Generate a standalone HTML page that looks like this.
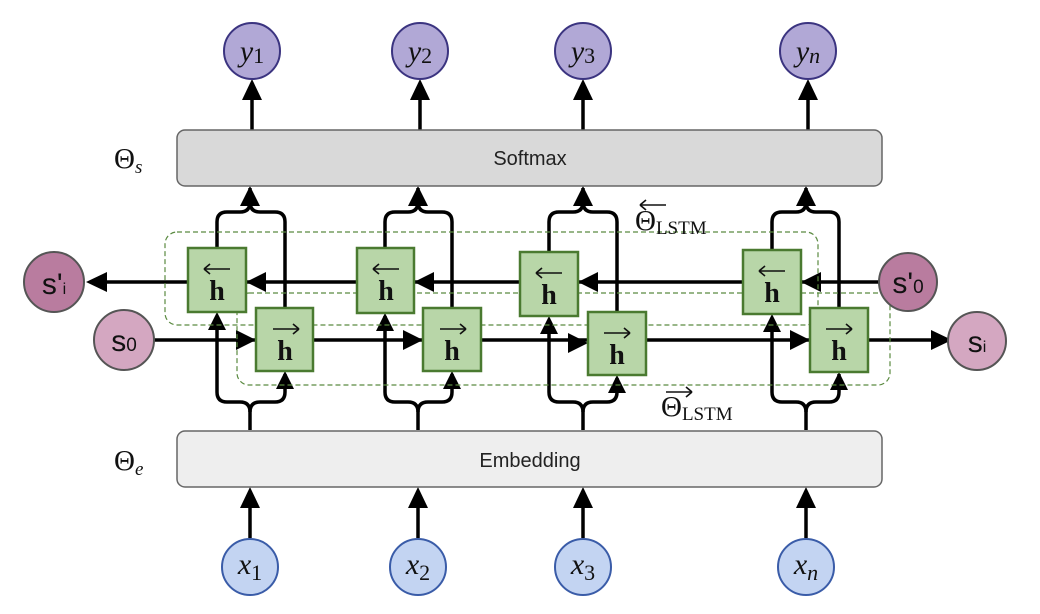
<!DOCTYPE html>
<html><head><style>body{margin:0;background:#fff}svg{display:block}</style></head><body>
<svg width="1040" height="614" viewBox="0 0 1040 614" xmlns="http://www.w3.org/2000/svg" font-family="Liberation Serif, serif">
<g stroke="#000" stroke-width="3.5" fill="none">
<line x1="250" y1="538" x2="250" y2="500"/>
<line x1="418" y1="538" x2="418" y2="500"/>
<line x1="583" y1="538" x2="583" y2="500"/>
<line x1="806" y1="538" x2="806" y2="500"/>
<line x1="252" y1="130" x2="252" y2="92"/>
<line x1="420" y1="130" x2="420" y2="92"/>
<line x1="583" y1="130" x2="583" y2="92"/>
<line x1="808" y1="130" x2="808" y2="92"/>
<line x1="880" y1="282" x2="100" y2="282"/>
<line x1="154" y1="340" x2="935" y2="340"/>
</g>
<g fill="#000">
<path d="M250,487l-10,21h20z"/><path d="M418,487l-10,21h20z"/><path d="M583,487l-10,21h20z"/><path d="M806,487l-10,21h20z"/>
<path d="M252,79l-10,21h20z"/><path d="M420,79l-10,21h20z"/><path d="M583,79l-10,21h20z"/><path d="M808,79l-10,21h20z"/>
<path d="M86,282l21,-10v20z"/>
<path d="M952,340l-21,-10v20z"/>
</g>
<g stroke="#000" stroke-width="3.5" fill="none">
<path d="M250,430V412Q250,402 240,402H227Q217,402 217,392V316"/>
<path d="M250,412Q250,402 260,402H275Q285,402 285,392V374"/>
<path d="M217,248V222Q217,212 227,212H240Q250,212 250,202V188"/>
<path d="M285,308V222Q285,212 275,212H260Q250,212 250,202"/>
<path d="M418,430V412Q418,402 408,402H395Q385,402 385,392V316"/>
<path d="M418,412Q418,402 428,402H442Q452,402 452,392V374"/>
<path d="M385,248V222Q385,212 395,212H408Q418,212 418,202V188"/>
<path d="M452,308V222Q452,212 442,212H428Q418,212 418,202"/>
<path d="M583,430V412Q583,402 573,402H559Q549,402 549,392V320"/>
<path d="M583,412Q583,402 593,402H607Q617,402 617,392V378"/>
<path d="M549,252V222Q549,212 559,212H573Q583,212 583,202V188"/>
<path d="M617,312V222Q617,212 607,212H593Q583,212 583,202"/>
<path d="M806,430V412Q806,402 796,402H782Q772,402 772,392V318"/>
<path d="M806,412Q806,402 816,402H829Q839,402 839,392V374"/>
<path d="M772,250V222Q772,212 782,212H796Q806,212 806,202V188"/>
<path d="M839,308V222Q839,212 829,212H816Q806,212 806,202"/>
</g>
<g fill="#000">
<path d="M250,186l-10,20h20z"/><path d="M418,186l-10,20h20z"/><path d="M583,186l-10,20h20z"/><path d="M806,186l-10,20h20z"/>
<path d="M217,312l-9,18h18z"/><path d="M285,371l-9,18h18z"/>
<path d="M385,313l-9,18h18z"/><path d="M452,371l-9,18h18z"/>
<path d="M549,316l-9,18h18z"/><path d="M617,375l-9,18h18z"/>
<path d="M772,314l-9,18h18z"/><path d="M839,372l-9,18h18z"/>
<path d="M256,340l-20,-10v20z"/><path d="M423,340l-20,-10v20z"/><path d="M588,343l-20,-10v20z"/><path d="M810,340l-20,-10v20z"/>
<path d="M246,282l20,-10v20z"/><path d="M414,282l20,-10v20z"/><path d="M578,282l20,-10v20z"/><path d="M801,282l20,-10v20z"/>
</g>
<rect x="165" y="232" width="653" height="93" rx="12" fill="none" stroke="#5a8a40" stroke-width="1.2" stroke-dasharray="5,3"/>
<rect x="237" y="293" width="653" height="92" rx="12" fill="none" stroke="#5a8a40" stroke-width="1.2" stroke-dasharray="5,3"/>
<g fill="#b8d6a8" stroke="#4a7a30" stroke-width="2.5">
<rect x="188" y="248" width="58" height="64"/>
<rect x="256" y="308" width="57" height="63"/>
<rect x="357" y="248" width="57" height="65"/>
<rect x="423" y="308" width="58" height="63"/>
<rect x="520" y="252" width="58" height="64"/>
<rect x="588" y="312" width="58" height="63"/>
<rect x="743" y="250" width="58" height="64"/>
<rect x="810" y="308" width="58" height="64"/>
</g>
<g font-size="28" font-weight="bold" text-anchor="middle" fill="#111">
<text x="217" y="300">h</text><text x="285" y="360">h</text>
<text x="386" y="300">h</text><text x="452" y="360">h</text>
<text x="549" y="304">h</text><text x="617" y="364">h</text>
<text x="772" y="302">h</text><text x="839" y="360">h</text>
</g>
<!-- arrows over h -->
<g stroke="#111" stroke-width="1.6" fill="none">
<path d="M204,269h26M204,269l6,-5M204,269l6,5"/>
<path d="M273,329h26M299,329l-6,-5M299,329l-6,5"/>
<path d="M373,269h26M373,269l6,-5M373,269l6,5"/>
<path d="M440,329h26M466,329l-6,-5M466,329l-6,5"/>
<path d="M536,273h26M536,273l6,-5M536,273l6,5"/>
<path d="M604,333h26M630,333l-6,-5M630,333l-6,5"/>
<path d="M759,271h26M759,271l6,-5M759,271l6,5"/>
<path d="M826,329h26M852,329l-6,-5M852,329l-6,5"/>
<path d="M640,205h26M640,205l6,-5M640,205l6,5"/>
<path d="M666,392h26M692,392l-6,-5M692,392l-6,5"/>
</g>
<rect x="177" y="130" width="705" height="56" rx="8" fill="#d9d9d9" stroke="#666" stroke-width="1.5"/>
<text x="530" y="165" font-family="Liberation Sans, sans-serif" font-size="20" text-anchor="middle" fill="#222">Softmax</text>
<rect x="177" y="431" width="705" height="56" rx="8" fill="#eeeeee" stroke="#666" stroke-width="1.5"/>
<text x="530" y="467" font-family="Liberation Sans, sans-serif" font-size="20" text-anchor="middle" fill="#222">Embedding</text>
<text x="114" y="168" font-size="29" fill="#111">Θ<tspan font-size="19" font-style="italic" dy="5">s</tspan></text>
<text x="114" y="470" font-size="29" fill="#111">Θ<tspan font-size="19" font-style="italic" dy="5">e</tspan></text>
<text x="635" y="230" font-size="29" fill="#111">Θ<tspan font-size="19" dy="4">LSTM</tspan></text>
<text x="661" y="416" font-size="29" fill="#111">Θ<tspan font-size="19" dy="4">LSTM</tspan></text>
<g fill="#b1a8d6" stroke="#3b3480" stroke-width="2">
<circle cx="252" cy="51" r="28"/><circle cx="420" cy="51" r="28"/><circle cx="583" cy="51" r="28"/><circle cx="808" cy="51" r="28"/>
</g>
<g font-size="30" font-style="italic" text-anchor="middle" fill="#111">
<text x="252" y="61">y<tspan font-style="normal" font-size="22" dy="2">1</tspan></text>
<text x="420" y="61">y<tspan font-style="normal" font-size="22" dy="2">2</tspan></text>
<text x="583" y="61">y<tspan font-style="normal" font-size="22" dy="2">3</tspan></text>
<text x="808" y="61">y<tspan font-size="22" dy="2">n</tspan></text>
</g>
<g fill="#c3d4f2" stroke="#3a5ca8" stroke-width="2">
<circle cx="250" cy="567" r="28"/><circle cx="418" cy="567" r="28"/><circle cx="583" cy="567" r="28"/><circle cx="806" cy="567" r="28"/>
</g>
<g font-size="30" font-style="italic" text-anchor="middle" fill="#111">
<text x="250" y="574">x<tspan font-style="normal" font-size="22" dy="6">1</tspan></text>
<text x="418" y="574">x<tspan font-style="normal" font-size="22" dy="6">2</tspan></text>
<text x="583" y="574">x<tspan font-style="normal" font-size="22" dy="6">3</tspan></text>
<text x="806" y="574">x<tspan font-size="22" dy="6">n</tspan></text>
</g>
<g stroke="#555" stroke-width="2">
<circle cx="54" cy="282" r="30" fill="#b97c9f"/>
<circle cx="124" cy="340" r="30" fill="#d4a7c1"/>
<circle cx="908" cy="282" r="29" fill="#b97c9f"/>
<circle cx="977" cy="341" r="29" fill="#d4a7c1"/>
</g>
<g font-family="Liberation Sans, sans-serif" font-size="30" fill="#111" text-anchor="middle">
<text x="54" y="294">s'<tspan font-size="16">i</tspan></text>
<text x="124" y="351">s<tspan font-size="19">0</tspan></text>
<text x="908" y="293">s'<tspan font-size="19">0</tspan></text>
<text x="977" y="352">s<tspan font-size="16">i</tspan></text>
</g>
</svg>
</body></html>
